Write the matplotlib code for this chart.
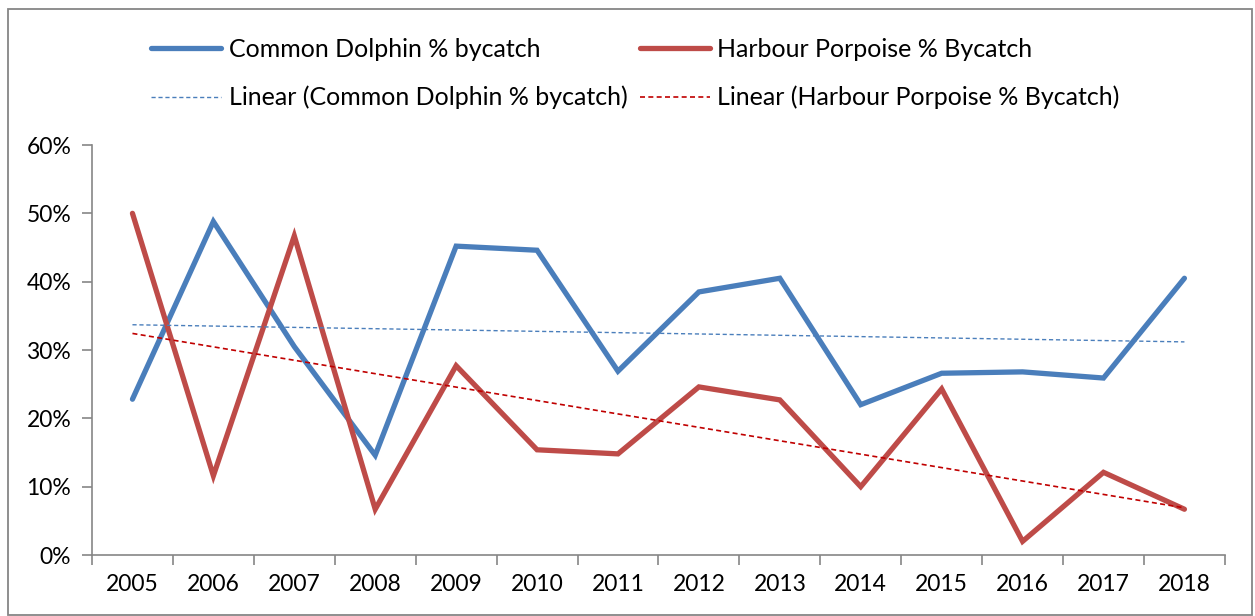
import numpy as np
import matplotlib
matplotlib.use("Agg")
import matplotlib.pyplot as plt
from matplotlib.ticker import PercentFormatter, FixedLocator

plt.rcParams['font.family'] = ['Lato', 'DejaVu Sans']

years = ['2005', '2006', '2007', '2008', '2009', '2010', '2011',
         '2012', '2013', '2014', '2015', '2016', '2017', '2018']
dolphin = [22.8, 48.8, 30.5, 14.6, 45.2, 44.6, 26.9,
           38.5, 40.5, 22.0, 26.6, 26.8, 25.9, 40.5]
porpoise = [50.0, 11.6, 46.7, 6.7, 27.7, 15.4, 14.8,
            24.6, 22.7, 10.0, 24.3, 2.0, 12.1, 6.7]

blue = '#4A7EBB'
red = '#BE4B48'
grey = '#868686'

x = np.arange(len(years))

# linear trendlines, like Excel's
d_fit = np.polyval(np.polyfit(x, dolphin, 1), x)
p_fit = np.polyval(np.polyfit(x, porpoise, 1), x)

fig = plt.figure(figsize=(12.55, 6.16), dpi=100)
ax = fig.add_axes([0.0733, 0.099, 0.9027, 0.6656])

l1, = ax.plot(x, dolphin, color=blue, lw=3.8, solid_capstyle='round',
              solid_joinstyle='miter', label='Common Dolphin % bycatch')
l2, = ax.plot(x, porpoise, color=red, lw=3.8, solid_capstyle='round',
              solid_joinstyle='miter', label='Harbour Porpoise % Bycatch')
l3, = ax.plot(x, d_fit, color=blue, lw=1.0, ls=(0, (3, 2)),
              label='Linear (Common Dolphin % bycatch)')
l4, = ax.plot(x, p_fit, color='#C00000', lw=1.2, ls=(0, (3, 2)),
              label='Linear (Harbour Porpoise % Bycatch)')

ax.set_xlim(-0.5, len(years) - 0.5)
ax.set_ylim(0, 60)
ax.set_yticks(np.arange(0, 61, 10))
ax.yaxis.set_major_formatter(PercentFormatter(decimals=0))
ax.set_xticks(x)
ax.set_xticklabels(years)
ax.xaxis.set_minor_locator(FixedLocator(np.arange(-0.5, len(years), 1)))
ax.tick_params(axis='x', which='major', length=0, pad=14, labelsize=16.5)
ax.tick_params(axis='x', which='minor', length=7, color=grey, width=1.2)
ax.tick_params(axis='y', length=7, color=grey, width=1.2, labelsize=16.5, pad=8)

for s in ['top', 'right']:
    ax.spines[s].set_visible(False)
for s in ['left', 'bottom']:
    ax.spines[s].set_color(grey)
    ax.spines[s].set_linewidth(1.2)

fig.legend([l1, l3, l2, l4], [l1.get_label(), l3.get_label(), l2.get_label(), l4.get_label()],
           ncol=2, loc='upper left', bbox_to_anchor=(0.1025, 0.975), frameon=False,
           fontsize=18, handlelength=2.8, handletextpad=0.3, columnspacing=0.5,
           labelspacing=1.0)

# chart border
fig.patches.append(plt.Rectangle((0.006, 0.002), 0.992, 0.983, transform=fig.transFigure,
                                 fill=False, edgecolor=grey, lw=1.3))

fig.savefig('out.png', dpi=100)
